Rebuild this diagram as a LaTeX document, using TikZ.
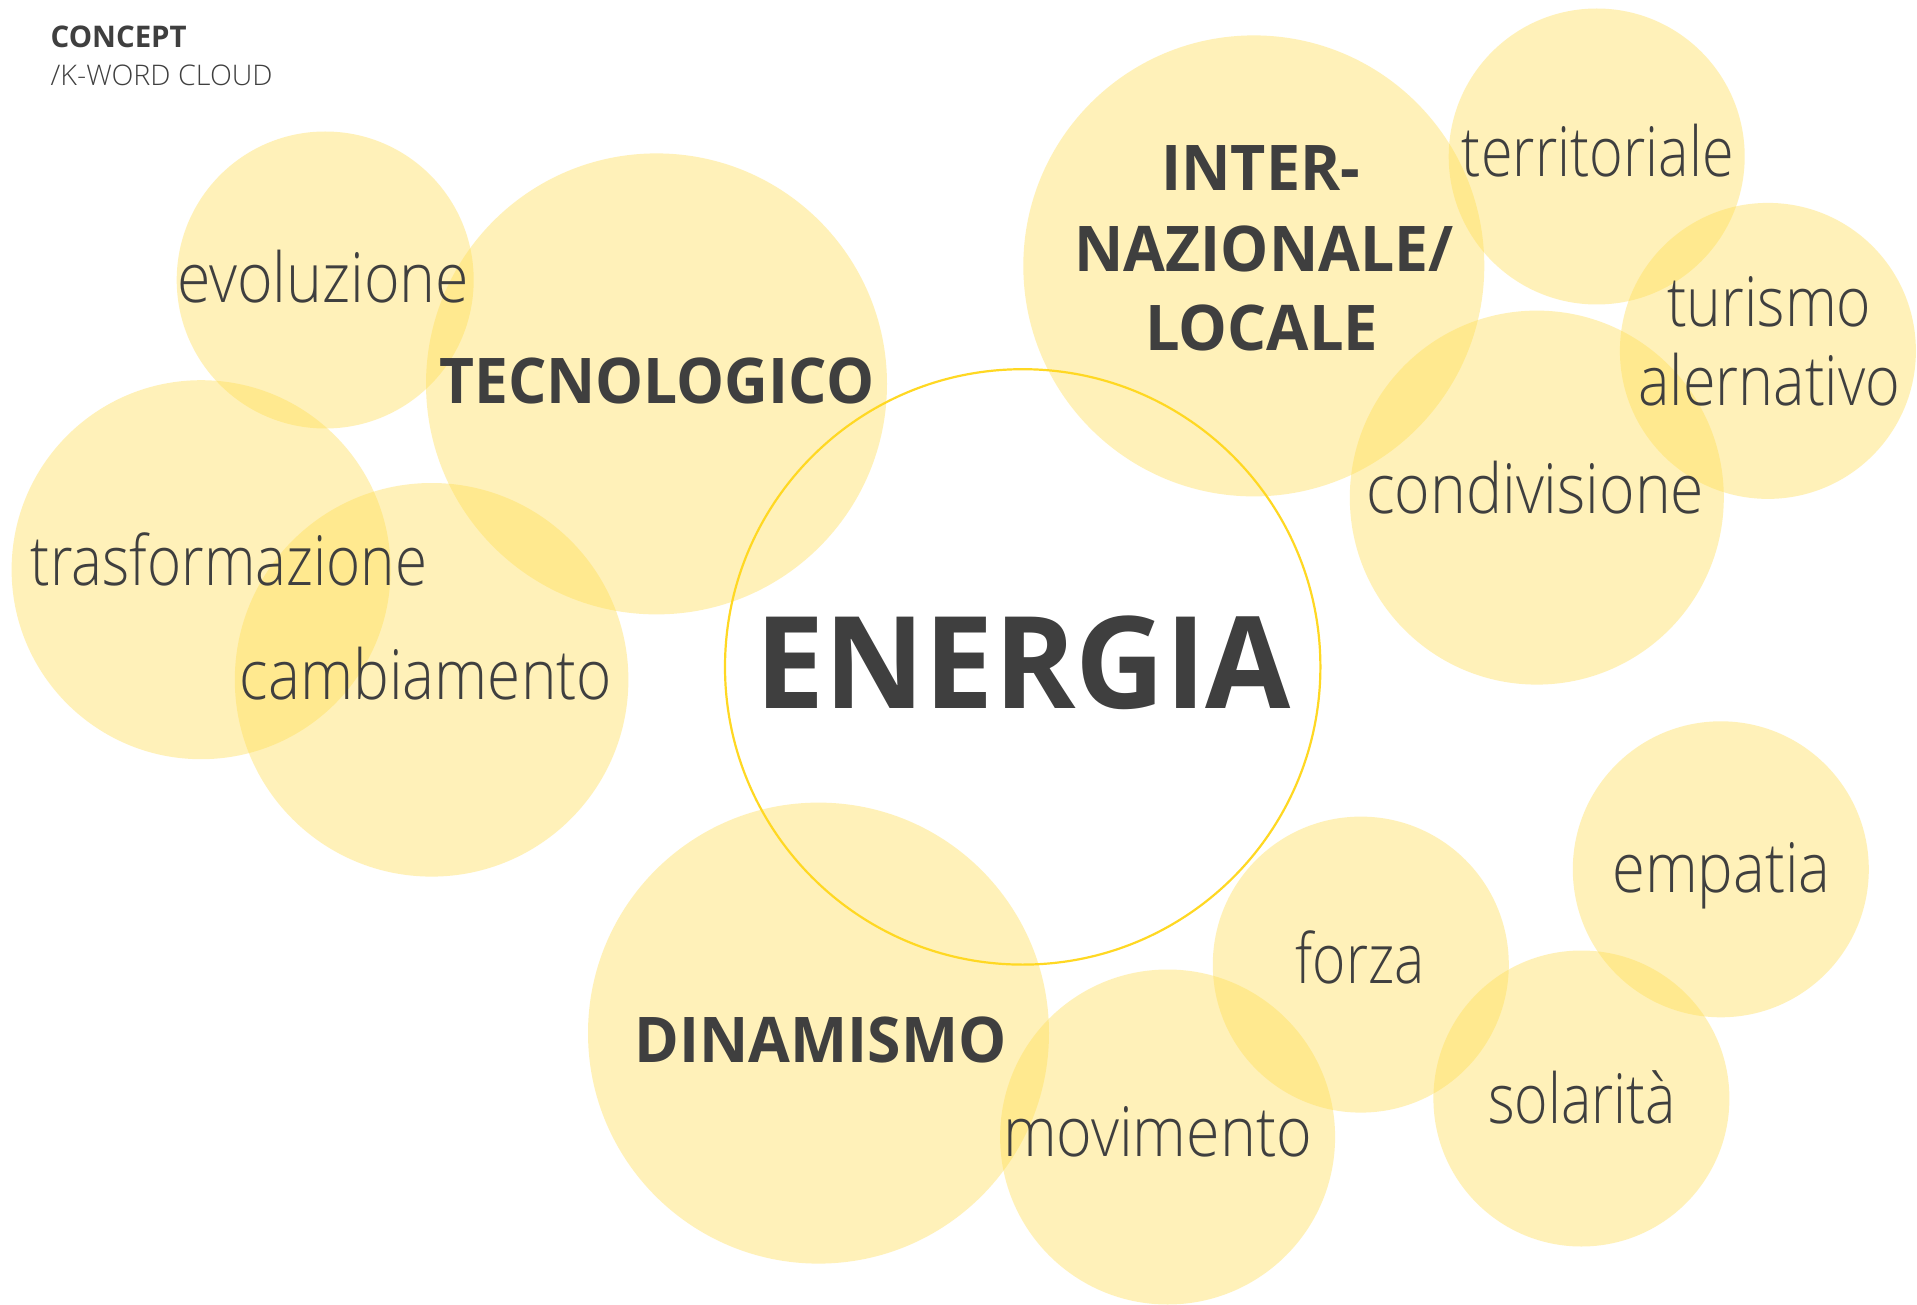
\documentclass[tikz,border=0pt]{standalone}
\usepackage{fontspec}
\usepackage{graphicx}
\setmainfont{Open Sans}
\newfontfamily\lightfont{Open Sans Light}
\definecolor{bubblefill}{RGB}{255,222,80}
\definecolor{ringcol}{RGB}{255,216,35}
\definecolor{inkcol}{RGB}{63,63,63}
\newcommand{\fitw}[2]{\resizebox{#1pt}{\height}{#2}}
\tikzset{
  bubble/.style={circle, inner sep=0pt, fill=bubblefill, fill opacity=0.4, draw=none},
  ring/.style={circle, inner sep=0pt, draw=ringcol, line width=2.2pt},
  word/.style={inner sep=0pt, anchor=base west, text=inkcol, font=\lightfont\fontsize{69}{80}\selectfont},
  bigword/.style={inner sep=0pt, anchor=base west, text=inkcol, font=\bfseries\fontsize{63}{75}\selectfont}
}
\begin{document}
\begin{tikzpicture}[x=1pt,y=-1pt]
\useasboundingbox[fill=white] (0,0) rectangle (1917,1305);
% bubbles
\node[bubble, minimum size=297pt] (evo) at (325.2,280.0) {};
\node[bubble, minimum size=461pt] (tec) at (656.5,383.9) {};
\node[bubble, minimum size=379pt] (tra) at (201.1,569.7) {};
\node[bubble, minimum size=393.6pt] (cam) at (431.6,679.8) {};
\node[bubble, minimum size=461pt] (int) at (1253.8,265.9) {};
\node[bubble, minimum size=296pt] (ter) at (1596.7,156.5) {};
\node[bubble, minimum size=296pt] (tur) at (1767.9,350.9) {};
\node[bubble, minimum size=374pt] (con) at (1536.8,497.6) {};
\node[bubble, minimum size=461pt] (din) at (818.5,1033.1) {};
\node[bubble, minimum size=335pt] (mov) at (1167.6,1137.0) {};
\node[bubble, minimum size=296pt] (frz) at (1360.8,964.6) {};
\node[bubble, minimum size=296pt] (emp) at (1720.8,869.3) {};
\node[bubble, minimum size=296pt] (sol) at (1581.4,1098.5) {};
\node[ring, minimum size=595.4pt] (ene) at (1022.7,666.9) {};
% header
\node[inner sep=0pt, anchor=base west, text=inkcol, font=\bfseries\fontsize{29.8}{34}\selectfont] (hd1) at (50.5,47.3) {\fitw{136}{CONCEPT}};
\node[inner sep=0pt, anchor=base west, text=inkcol, font=\lightfont\fontsize{28.4}{34}\selectfont] (hd2) at (50.5,86) {\fitw{222}{/K-WORD CLOUD}};
% words
\node[word] (t-evo) at (177,302.3) {\fitw{292}{evoluzione}};
\node[word] (t-tra) at (30.7,585) {\fitw{396}{trasformazione}};
\node[word] (t-cam) at (239.7,699.3) {\fitw{372}{cambiamento}};
\node[word] (t-ter) at (1461.6,177) {\fitw{272}{territoriale}};
\node[word] (t-tur) at (1667,326.5) {\fitw{204}{turismo}};
\node[word] (t-alt) at (1638,406) {\fitw{262}{alernativo}};
\node[word] (t-con) at (1365.9,513.3) {\fitw{338}{condivisione}};
\node[word] (t-mov) at (1002.8,1156.7) {\fitw{309}{movimento}};
\node[word] (t-frz) at (1295.4,983.3) {\fitw{129}{forza}};
\node[word] (t-emp) at (1612,892.7) {\fitw{218}{empatia}};
\node[word] (t-sol) at (1488,1123) {\fitw{188}{solarità}};
% bold words
\node[bigword] (t-tec) at (439,403) {\fitw{435}{TECNOLOGICO}};
\node[bigword] (t-int1) at (1161,190.7) {\fitw{199}{INTER-}};
\node[bigword] (t-int2) at (1074.3,271.7) {\fitw{379}{NAZIONALE/}};
\node[bigword] (t-int3) at (1145,350.7) {\fitw{233}{LOCALE}};
\node[bigword] (t-din) at (634.5,1062) {\fitw{372}{DINAMISMO}};
\node[inner sep=0pt, anchor=base west, text=inkcol, font=\bfseries\fontsize{128}{150}\selectfont] (t-ene) at (755,708) {\fitw{536}{ENERGIA}};
\end{tikzpicture}
\end{document}
